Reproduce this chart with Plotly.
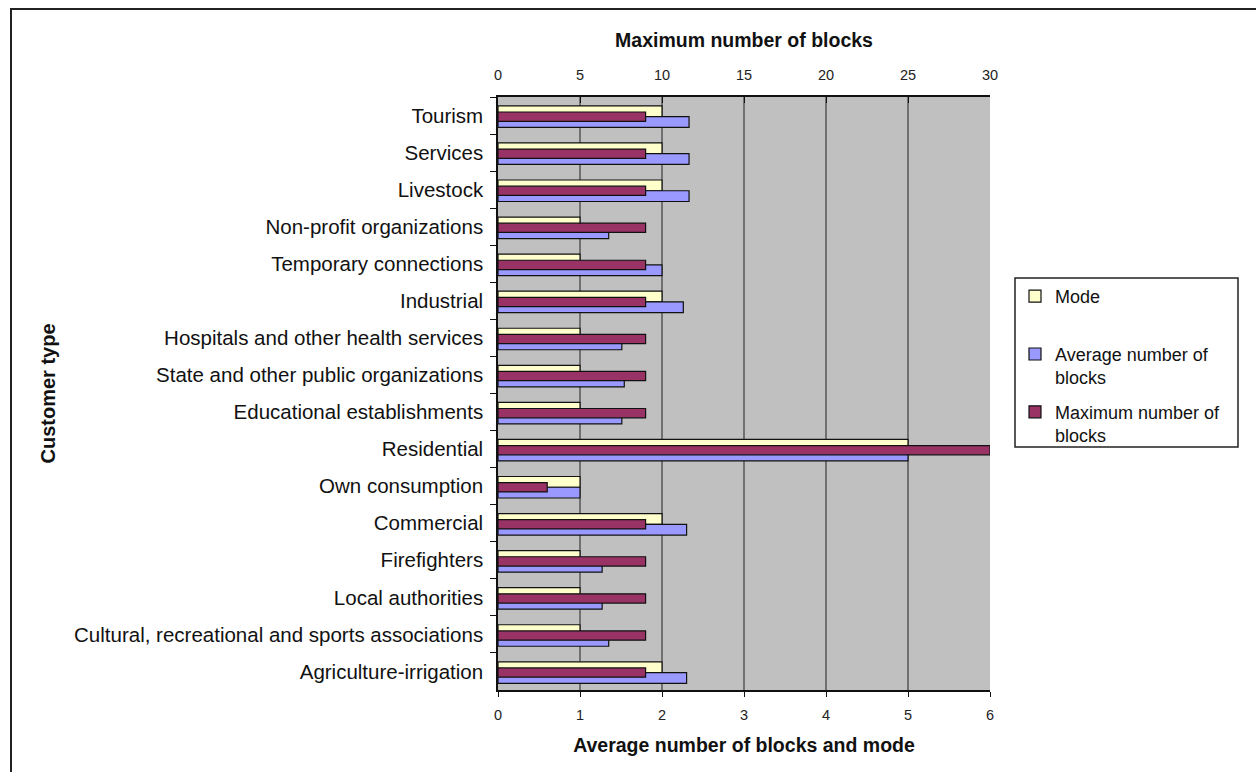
import plotly.graph_objects as go

# Customer types, listed from top to bottom
categories = [
    "Tourism", "Services", "Livestock", "Non-profit organizations",
    "Temporary connections", "Industrial", "Hospitals and other health services",
    "State and other public organizations", "Educational establishments",
    "Residential", "Own consumption", "Commercial", "Firefighters",
    "Local authorities", "Cultural, recreational and sports associations",
    "Agriculture-irrigation",
]

# Bottom axis (0-6): mode and average number of blocks
mode_blocks = [2, 2, 2, 1, 1, 2, 1, 1, 1, 5, 1, 2, 1, 1, 1, 2]
avg_blocks = [2.33, 2.33, 2.33, 1.35, 2.0, 2.26, 1.51, 1.54, 1.51, 5.0,
              1.0, 2.30, 1.27, 1.27, 1.35, 2.30]
# Top axis (0-30): maximum number of blocks
max_blocks = [9, 9, 9, 9, 9, 9, 9, 9, 9, 30, 3, 9, 9, 9, 9, 9]

FONT = "Liberation Sans, Arial, sans-serif"
W, H = 1256, 772
ML, MR, MT, MB = 498, 266, 97, 82
PW, PH = W - ML - MR, H - MT - MB


def px_x(p):
    return (p - ML) / PW


def px_y(p):
    return 1 - (p - MT) / PH


bar_w = 0.29
outline = dict(color="#111111", width=1.2)

fig = go.Figure()
fig.add_trace(go.Bar(
    y=categories, x=mode_blocks, orientation="h", name="Mode<br> ",
    marker=dict(color="#FFFFCC", line=outline),
    width=bar_w, offset=-bar_w + 0.03, xaxis="x", yaxis="y", legendgroup="a",
))
fig.add_trace(go.Bar(
    y=categories, x=avg_blocks, orientation="h", name="Average number of<br>blocks",
    marker=dict(color="#9999FF", line=outline),
    width=bar_w, offset=0.03, xaxis="x", yaxis="y", legendgroup="b",
))
fig.add_trace(go.Bar(
    y=categories, x=max_blocks, orientation="h", name="Maximum number of<br>blocks",
    marker=dict(color="#993366", line=outline),
    width=0.25, offset=-0.125 + 0.03, xaxis="x2", yaxis="y", legendgroup="c",
))

tick_font = dict(family=FONT, size=14.5, color="#222222")
title_font = dict(family=FONT, size=19.5, color="#111111", weight="bold")

fig.update_layout(
    width=W, height=H,
    margin=dict(l=ML, r=MR, t=MT, b=MB, autoexpand=False),
    paper_bgcolor="white",
    plot_bgcolor="#C0C0C0",
    barmode="overlay",
    font=dict(family=FONT, color="#111111"),
    xaxis=dict(
        range=[0, 6], dtick=1, side="bottom",
        showgrid=True, gridcolor="#707070", gridwidth=1.5,
        showline=True, linecolor="#111111", linewidth=1.5,
        ticks="outside", ticklen=5, tickcolor="#111111",
        tickfont=tick_font, zeroline=False, ticklabelstandoff=6,
        title=dict(text="Average number of blocks and mode", font=title_font, standoff=16),
    ),
    xaxis2=dict(
        range=[0, 30], dtick=5, side="top", overlaying="x", anchor="y",
        showgrid=False, showline=True, linecolor="#111111", linewidth=1.5,
        ticks="inside", ticklen=6, tickcolor="#111111",
        tickfont=tick_font, zeroline=False, ticklabelstandoff=9,
        title=dict(text="Maximum number of blocks", font=title_font, standoff=15),
    ),
    # darker vertical gridlines at the middle values
    xaxis3=dict(
        range=[0, 6], tickvals=[2, 3, 4], overlaying="x", anchor="y",
        showgrid=True, gridcolor="#111111", gridwidth=2.2,
        showticklabels=False, ticks="", showline=False, zeroline=False,
    ),
    yaxis=dict(
        range=[len(categories) - 0.5, -0.5],
        type="category",
        tickson="boundaries", ticks="outside", ticklen=6, tickcolor="#111111",
        showline=True, linecolor="#111111", linewidth=1.5,
        showgrid=False, ticklabelstandoff=9,
        tickfont=dict(family=FONT, size=20.5, color="#111111"),
        title=dict(text="Customer type", font=dict(family=FONT, size=20, color="#111111", weight="bold"),
                   standoff=13),
    ),
    legend=dict(
        x=px_x(1015), y=px_y(278), xanchor="left", yanchor="top",
        bgcolor="rgba(0,0,0,0)", borderwidth=0,
        font=dict(family=FONT, size=18, color="#111111"),
        traceorder="grouped", tracegroupgap=8, valign="top",
    ),
    shapes=[
        # outer frame
        dict(type="rect", xref="paper", yref="paper",
             x0=px_x(11), x1=px_x(1300), y0=px_y(820), y1=px_y(9),
             line=dict(color="#222222", width=2), fillcolor="rgba(0,0,0,0)"),
        # legend frame
        dict(type="rect", xref="paper", yref="paper",
             x0=px_x(1015), x1=px_x(1238), y0=px_y(447), y1=px_y(278),
             line=dict(color="#222222", width=1.5), fillcolor="rgba(0,0,0,0)"),
    ],
)

fig.write_html("out.html")
